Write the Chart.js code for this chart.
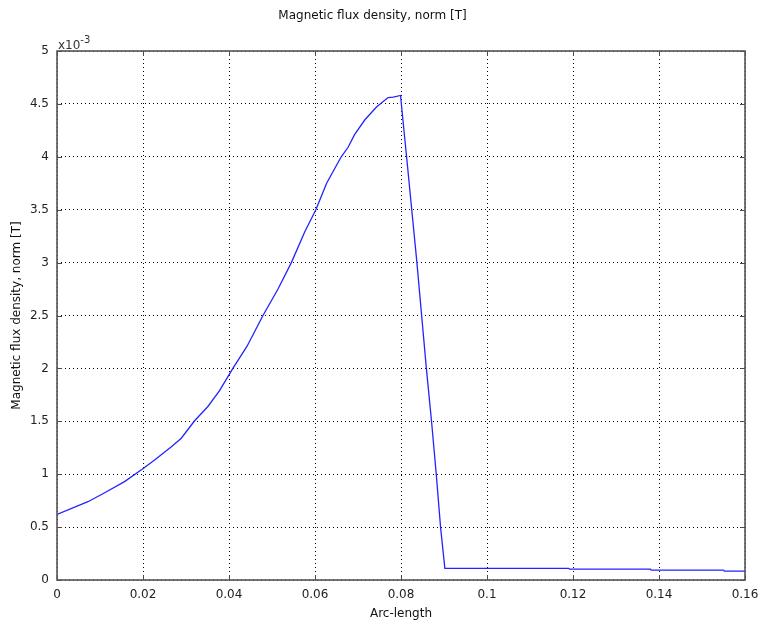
<!DOCTYPE html>
<html>
<head>
<meta charset="utf-8">
<script src="https://cdn.jsdelivr.net/npm/chart.js@4/dist/chart.umd.min.js"></script>
<style>
  html, body { margin:0; padding:0; background:#fff; }
  #wrap { width:760px; height:624px; position:relative; }
</style>
</head>
<body>
<div id="wrap"><canvas id="c"></canvas></div>
<script>
'use strict';

// arc-length [m] and |B| in units of 1e-3 T
const arcLength = [0, 0.0072, 0.0111, 0.0157, 0.0198, 0.0227, 0.0266, 0.0289, 0.032, 0.0351,
  0.0378, 0.0409, 0.0442, 0.0479, 0.0514, 0.0545, 0.0576, 0.0602, 0.0627, 0.0661,
  0.0677, 0.0692, 0.0716, 0.0743, 0.077, 0.0782, 0.0799, 0.0802, 0.0813, 0.0825,
  0.0837, 0.0848, 0.0859, 0.0871, 0.0882, 0.0892, 0.0902, 0.119, 0.1192,
  0.138, 0.1382, 0.155, 0.1552, 0.16];
const fluxE3 = [0.62, 0.74, 0.825, 0.93, 1.046, 1.134, 1.26, 1.34, 1.505, 1.64,
  1.79, 2.0, 2.21, 2.5, 2.75, 3.0, 3.29, 3.5, 3.75, 4.0,
  4.09, 4.21, 4.35, 4.47, 4.56, 4.565, 4.58, 4.45, 4.0, 3.5,
  3.0, 2.5, 2.0, 1.5, 1.0, 0.5, 0.11, 0.11, 0.102,
  0.102, 0.093, 0.093, 0.084, 0.084];

const xTicks = [0, 0.02, 0.04, 0.06, 0.08, 0.1, 0.12, 0.14, 0.16];
const yTicks = [0, 0.5, 1, 1.5, 2, 2.5, 3, 3.5, 4, 4.5, 5];

const chartTitle = 'Magnetic flux density, norm [T]';
const xTitle = 'Arc-length';
const yTitle = 'Magnetic flux density, norm [T]';

const FONT = "'DejaVu Sans', Verdana, sans-serif";

const points = arcLength.map((x, i) => ({ x, y: fluxE3[i] }));

// frame, inward tick marks and the x10^-3 exponent label
const framePlugin = {
  id: 'frame',
  afterDraw(chart) {
    const { ctx, chartArea: a, scales } = chart;
    ctx.save();
    ctx.strokeStyle = '#4a4a4a';
    ctx.lineWidth = 1;
    ctx.setLineDash([]);
    ctx.beginPath();
    xTicks.forEach(v => {
      const px = Math.round(scales.x.getPixelForValue(v)) + 0.5;
      ctx.moveTo(px, a.bottom); ctx.lineTo(px, a.bottom - 5);
      ctx.moveTo(px, a.top); ctx.lineTo(px, a.top + 5);
    });
    yTicks.forEach(v => {
      const py = Math.round(scales.y.getPixelForValue(v)) + 0.5;
      ctx.moveTo(a.left, py); ctx.lineTo(a.left + 5, py);
      ctx.moveTo(a.right, py); ctx.lineTo(a.right - 5, py);
    });
    ctx.stroke();
    ctx.lineWidth = 1.6;
    ctx.strokeStyle = '#555';
    ctx.strokeRect(a.left, a.top, a.right - a.left, a.bottom - a.top);

    ctx.fillStyle = '#333';
    ctx.textBaseline = 'alphabetic';
    ctx.textAlign = 'left';
    ctx.font = '12px ' + FONT;
    ctx.fillText('x10', a.left + 1, a.top - 2);
    const w = ctx.measureText('x10').width;
    ctx.font = '10px ' + FONT;
    ctx.fillText('-3', a.left + 1 + w, a.top - 8);
    ctx.restore();
  }
};

new Chart(document.getElementById('c'), {
  type: 'scatter',
  data: {
    datasets: [{
      data: points,
      showLine: true,
      borderColor: 'rgb(35,35,255)',
      borderWidth: 1.3,
      pointRadius: 0,
      tension: 0,
      fill: false
    }]
  },
  options: {
    responsive: true,
    maintainAspectRatio: false,
    animation: false,
    layout: { padding: { top: 0, right: 15, bottom: 0, left: 0 } },
    plugins: {
      legend: { display: false },
      tooltip: { enabled: false },
      title: {
        display: true,
        text: chartTitle,
        color: '#111',
        font: { family: FONT, size: 12, weight: 'normal' },
        padding: { top: 9, bottom: 27.6 }
      }
    },
    scales: {
      x: {
        type: 'linear',
        min: 0, max: 0.16,
        afterFit(s) { s.height = 44; s.paddingLeft = 0; s.paddingRight = 0; },
        afterBuildTicks(s) { s.ticks = xTicks.map(v => ({ value: v })); },
        grid: { color: '#000', lineWidth: 1, drawTicks: false },
        border: { display: false, dash: [1, 3] },
        ticks: {
          color: '#222',
          padding: 8,
          maxRotation: 0,
          font: { family: FONT, size: 12 },
          callback: v => String(parseFloat(Number(v).toFixed(2)))
        },
        title: {
          display: true,
          text: xTitle,
          color: '#111',
          font: { family: FONT, size: 12 },
          padding: { top: 0, bottom: 3 }
        }
      },
      y: {
        type: 'linear',
        min: 0, max: 5,
        afterFit(s) { s.width = 57; s.paddingTop = 0; s.paddingBottom = 0; },
        afterBuildTicks(s) { s.ticks = yTicks.map(v => ({ value: v })); },
        grid: { color: '#000', lineWidth: 1, drawTicks: false },
        border: { display: false, dash: [1, 3] },
        ticks: {
          color: '#222',
          padding: 8,
          font: { family: FONT, size: 12 },
          callback: v => String(v)
        },
        title: {
          display: true,
          text: yTitle,
          color: '#111',
          font: { family: FONT, size: 12 },
          padding: { top: 10, bottom: 0 }
        }
      }
    }
  },
  plugins: [framePlugin]
});
</script>
</body>
</html>
